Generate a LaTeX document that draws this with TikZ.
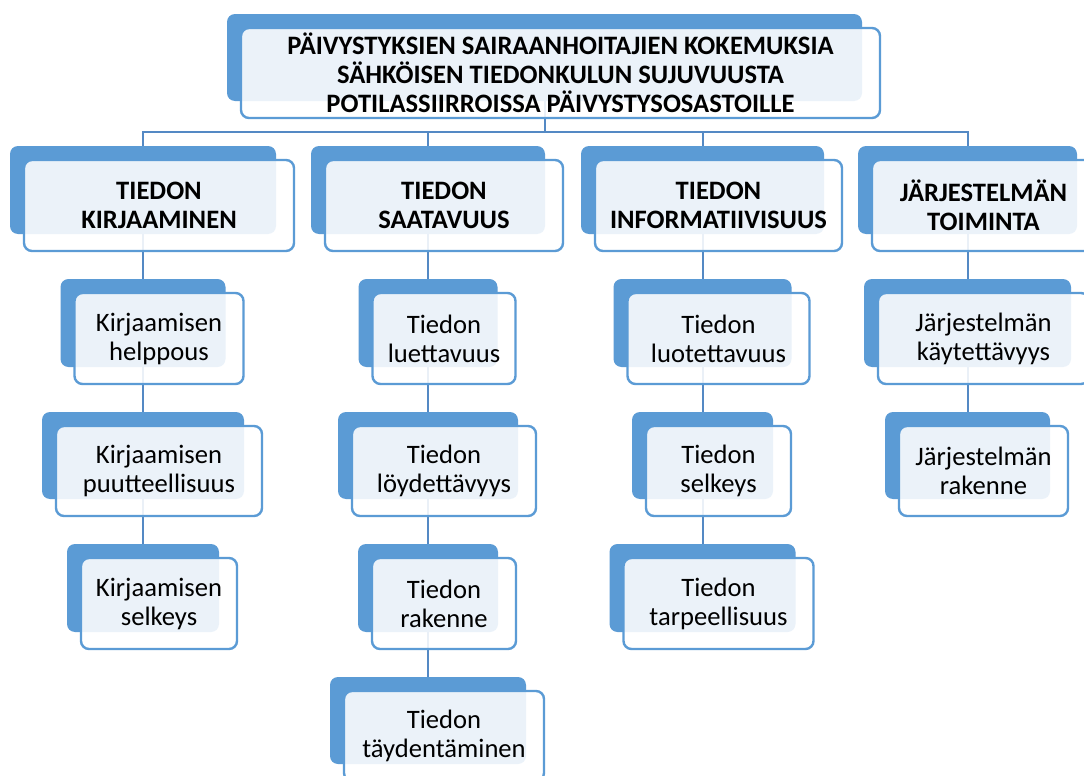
\documentclass[tikz,border=0pt]{standalone}
\usepackage{fontspec}
\setmainfont{Carlito}
\usepackage{tikz}
\usetikzlibrary{backgrounds}
\definecolor{kortinsini}{RGB}{91,155,213}
\definecolor{viivansini}{RGB}{84,137,196}
\tikzset{
  takaosa/.style={rounded corners=4pt, fill=kortinsini, inner sep=0pt},
  etuosa/.style={rounded corners=4pt, draw=kortinsini, line width=1.2pt, fill=white,
                 fill opacity=0.88, text opacity=1, inner sep=0pt, align=center},
  linkki/.style={draw=viivansini, line width=1pt}
}
\newcommand{\kortti}[6]{%
  \node[takaosa, minimum width=#4*0.5pt, minimum height=#5*0.5pt] (#1) at (#2,#3) {};
  \node[etuosa, minimum width=(#4+4)*0.5pt, minimum height=(#5+3)*0.5pt]
       (#1-e) at ([shift={(16,15.5)}]#1.center) {#6};}

\begin{document}
\begin{tikzpicture}[x=0.5pt, y=-0.5pt, font=\fontsize{13.3}{14.5}\selectfont]
  \useasboundingbox (0,0) rectangle (1084,776);
  \clip (0,0) rectangle (1084,776);
  \kortti{t}{544.5}{57.5}{635}{87}{\textbf{PÄIVYSTYKSIEN SAIRAANHOITAJIEN KOKEMUKSIA}\\
    \textbf{SÄHKÖISEN TIEDONKULUN SUJUVUUSTA}\\\textbf{POTILASSIIRROISSA PÄIVYSTYSOSASTOILLE}}
  \kortti{h1}{143}{190}{266}{88}{\textbf{TIEDON}\\\textbf{KIRJAAMINEN}}
  \kortti{h2}{428}{190}{234}{88}{\textbf{TIEDON}\\\textbf{SAATAVUUS}}
  \kortti{h3}{702.5}{190}{243}{88}{\textbf{TIEDON}\\\textbf{INFORMATIIVISUUS}}
  \kortti{h4}{967.5}{190}{219}{88}{\textbf{JÄRJESTELMÄN}\\\textbf{TOIMINTA}}
  \kortti{k1}{143}{323}{165}{88}{Kirjaamisen\\helppous}
  \kortti{k2}{143}{455.5}{202}{87}{Kirjaamisen\\puutteellisuus}
  \kortti{k3}{143}{588}{152}{88}{Kirjaamisen\\selkeys}
  \kortti{s1}{428}{323}{139}{88}{Tiedon\\luettavuus}
  \kortti{s2}{428}{455.5}{180}{87}{Tiedon\\löydettävyys}
  \kortti{s3}{428}{588}{140}{88}{Tiedon\\rakenne}
  \kortti{s4}{428}{720.5}{196}{87}{Tiedon\\täydentäminen}
  \kortti{i1}{702.5}{323}{178}{88}{Tiedon\\luotettavuus}
  \kortti{i2}{702.5}{455.5}{141}{87}{Tiedon\\selkeys}
  \kortti{i3}{702.5}{588}{186}{88}{Tiedon\\tarpeellisuus}
  \kortti{j1}{967.5}{323}{207}{88}{Järjestelmän\\käytettävyys}
  \kortti{j2}{967.5}{455.5}{165}{87}{Järjestelmän\\rakenne}
  \begin{pgfonlayer}{background}
    \fill[white] (0,0) rectangle (1084,776);
    \coordinate (vayla) at (544.5,132);
    \draw[linkki] (t.south) -- (vayla);
    \foreach \o in {h1,h2,h3,h4}
      \draw[linkki] (vayla) -| (\o.north);
    \foreach \a/\b in {h1/k1,k1/k2,k2/k3,h2/s1,s1/s2,s2/s3,s3/s4,h3/i1,i1/i2,i2/i3,h4/j1,j1/j2}
      \draw[linkki] (\a.south) -- (\b.north);
  \end{pgfonlayer}
\end{tikzpicture}
\end{document}
